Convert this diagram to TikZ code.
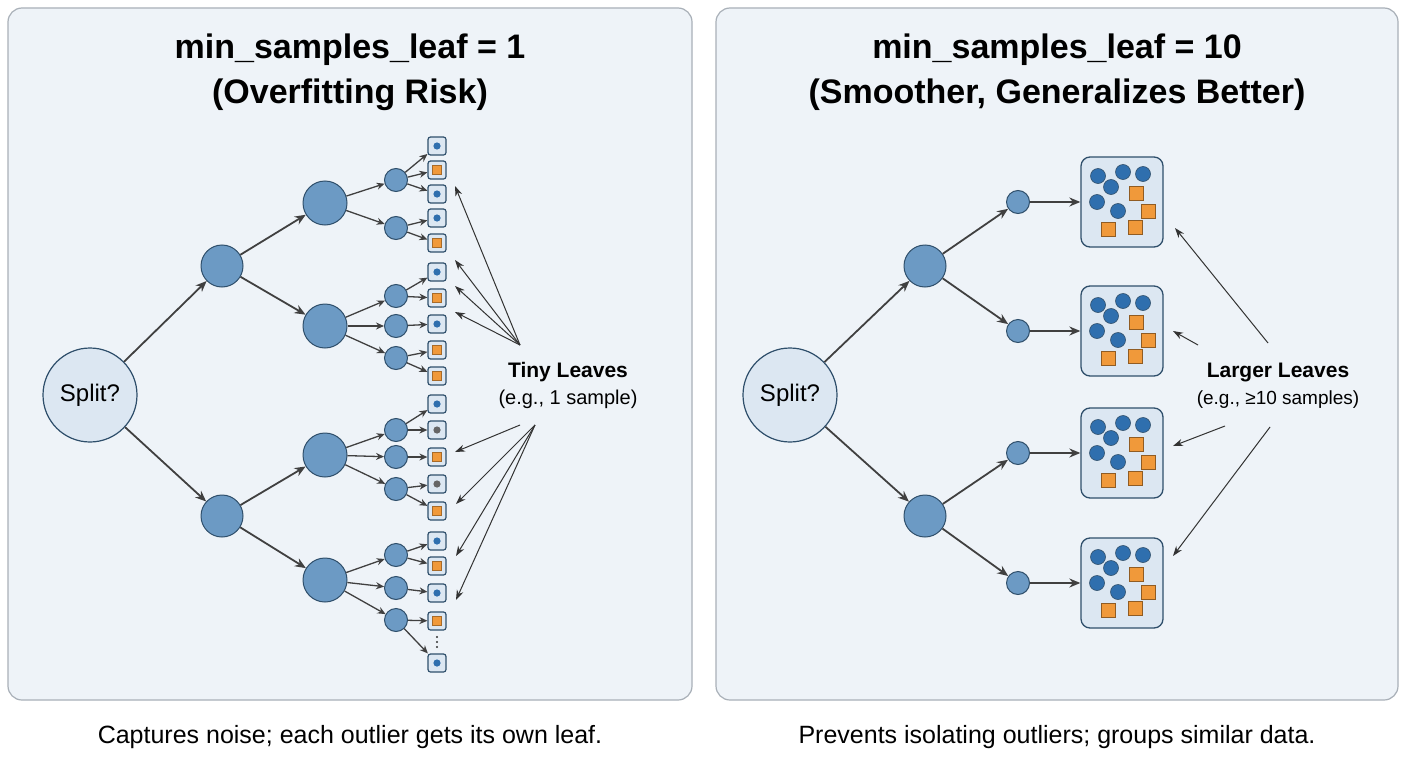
\documentclass[tikz,border=0pt]{standalone}
\usepackage{fontspec}
\setmainfont{Liberation Sans}
\usetikzlibrary{arrows.meta,calc}
\definecolor{panel}{HTML}{EEF3F8}
\definecolor{pborder}{HTML}{A9B0B8}
\definecolor{nodeblue}{HTML}{6C9AC4}
\definecolor{nodeedge}{HTML}{2F4F6B}
\definecolor{dotblue}{HTML}{2F6FAE}
\definecolor{sqor}{HTML}{F0993A}
\definecolor{leaffill}{HTML}{DCE7F2}
\definecolor{rootfill}{HTML}{DCE7F2}
\tikzset{
 pnl/.style={draw=pborder,line width=1.2pt,fill=panel,rounded corners=14pt},
 root/.style={circle,draw=nodeedge,fill=rootfill,line width=1.2pt,minimum size=94pt,inner sep=0pt,font=\fontsize{24}{28}\selectfont},
 big/.style={circle,draw=nodeedge,fill=nodeblue,line width=1pt,minimum size=42pt,inner sep=0pt},
 mid/.style={circle,draw=nodeedge,fill=nodeblue,line width=1pt,minimum size=44pt,inner sep=0pt},
 sm/.style={circle,draw=nodeedge,fill=nodeblue,line width=1pt,minimum size=23pt,inner sep=0pt},
 leaf/.style={draw=nodeedge,fill=leaffill,line width=1.2pt,rounded corners=2.5pt,minimum size=18pt,inner sep=0pt},
 bigleaf/.style={draw=nodeedge,fill=leaffill,line width=1.3pt,rounded corners=9pt,minimum width=82pt,minimum height=90pt,inner sep=0pt},
 ar/.style={-{Stealth[length=11pt,width=9pt]},line width=1.8pt,draw=black!75},
 sar/.style={-{Stealth[length=8pt,width=7pt]},line width=1.3pt,draw=black!75},
 lbl/.style={-{Stealth[length=10pt,width=7pt]},line width=1pt,draw=black!80},
 title/.style={font=\fontsize{34}{38}\selectfont\bfseries},
 captxt/.style={font=\fontsize{25}{28}\selectfont},
}
\begin{document}
\begin{tikzpicture}[x=1pt,y=-1pt]
\useasboundingbox (0,0) rectangle (1408,768);
\fill[white] (0,0) rectangle (1408,768);
\draw[pnl] (8,8) rectangle (692,700);
\draw[pnl] (716,8) rectangle (1398,700);
\node[title] (t1) at (350,50) {min\_samples\_leaf = 1};
\node[title] (t1b) at (350,95) {(Overfitting Risk)};
\node[title] (t2) at (1057,50) {min\_samples\_leaf = 10};
\node[title] (t2b) at (1057,95) {(Smoother, Generalizes Better)};
\node[captxt] (c1) at (350,737) {Captures noise; each outlier gets its own leaf.};
\node[captxt] (c2) at (1057,737) {Prevents isolating outliers; groups similar data.};
% LEFT TREE
\node[root] (r) at (90,395) {Split?};
\node[big] (a1) at (222,266) {};
\node[big] (a2) at (222,516) {};
\draw[ar] (r) -- (a1); \draw[ar] (r) -- (a2);
\foreach \n/\y/\p in {b1/203/a1,b2/326/a1,b3/455/a2,b4/580/a2}{
  \node[mid] (\n) at (325,\y) {};
  \draw[ar] (\p) -- (\n);}
\foreach \n/\y/\p in {s1/180/b1,s2/228/b1,s3/296/b2,s4/326/b2,s5/358/b2,s6/430/b3,s7/457/b3,s8/489/b3,s9/555/b4,s10/588/b4,s11/620/b4}{
  \node[sm] (\n) at (396,\y) {};
  \draw[sar] (\p) -- (\n);}
\foreach \i/\y/\k/\p in {1/146/b/s1,2/170/o/s1,3/194/b/s1,4/218/b/s2,5/243/o/s2,6/272/b/s3,7/298/o/s3,8/324/b/s4,9/350/o/s5,10/376/o/s5,11/404/b/s6,12/430/g/s6,13/457/o/s7,14/484/g/s8,15/511/o/s8,16/541/b/s9,17/566/o/s9,18/593/b/s10,19/621/o/s11,20/663/b/s11}{
  \node[leaf] (l\i) at (437,\y) {};
  \if\k b \fill[dotblue] (l\i.center) circle (3.6pt);\fi
  \if\k g \fill[gray!80!black] (l\i.center) circle (3.6pt);\fi
  \if\k o \fill[sqor,draw=sqor!70!black,line width=0.4pt] ($(l\i.center)+(-4.5,-4.5)$) rectangle ($(l\i.center)+(4.5,4.5)$);\fi
  \draw[sar] (\p) -- (l\i);}
\foreach \y in {637,642,647}{\fill[black!80] (437,\y) circle (1.2pt);}
\node[font=\fontsize{21}{24}\selectfont\bfseries] (tl) at (568,372) {Tiny Leaves};
\node[font=\fontsize{20}{24}\selectfont] (tl2) at (568,399) {(e.g., 1 sample)};
\coordinate (u) at (520,345);
\coordinate (d) at (535,425);
\coordinate (d2) at (520,425);
\foreach \y in {186,260,286,312}{\coordinate (h) at (455,\y); \draw[lbl] (u) -- (h);}
\coordinate (h2) at (455,452);
\draw[lbl] (d2) -- (h2);
\foreach \y in {504,556,600}{\coordinate (h) at (456,\y); \draw[lbl] (d) -- (h);}
% RIGHT TREE
\node[root] (R) at (790,395) {Split?};
\node[big] (A1) at (925,266) {};
\node[big] (A2) at (925,516) {};
\draw[ar] (R) -- (A1); \draw[ar] (R) -- (A2);
\foreach \n/\y/\p in {1/202/A1,2/331/A1,3/453/A2,4/583/A2}{
  \node[sm] (S\n) at (1018,\y) {};
  \draw[ar] (\p) -- (S\n);
  \node[bigleaf] (L\n) at (1122,\y) {};
  \draw[ar] (S\n) -- (L\n);
  \foreach \dx/\dy in {-24/-26,1/-30,21/-28,-11/-15,-25/0,-4/9}
    \fill[dotblue,draw=nodeedge,line width=0.6pt] ($(L\n.center)+(\dx,\dy)$) circle (7.5pt);
  \foreach \dx/\dy in {14/-9,26/9,-14/27,13/25}
    \fill[sqor,draw=sqor!60!black,line width=0.6pt] ($(L\n.center)+(\dx-7,\dy-7)$) rectangle ($(L\n.center)+(\dx+7,\dy+7)$);
}
\node[font=\fontsize{21}{24}\selectfont\bfseries] (ll) at (1278,372) {Larger Leaves};
\node[font=\fontsize{19}{24}\selectfont] (ll2) at (1278,400) {(e.g., ≥10 samples)};
\coordinate (p1) at (1268,343); \coordinate (q1) at (1175,228);
\coordinate (p2) at (1198,345); \coordinate (q2) at (1173,331);
\coordinate (p3) at (1225,426); \coordinate (q3) at (1173,446);
\coordinate (p4) at (1270,427); \coordinate (q4) at (1173,556);
\draw[lbl] (p1) -- (q1);
\draw[lbl] (p2) -- (q2);
\draw[lbl] (p3) -- (q3);
\draw[lbl] (p4) -- (q4);
\end{tikzpicture}
\end{document}
